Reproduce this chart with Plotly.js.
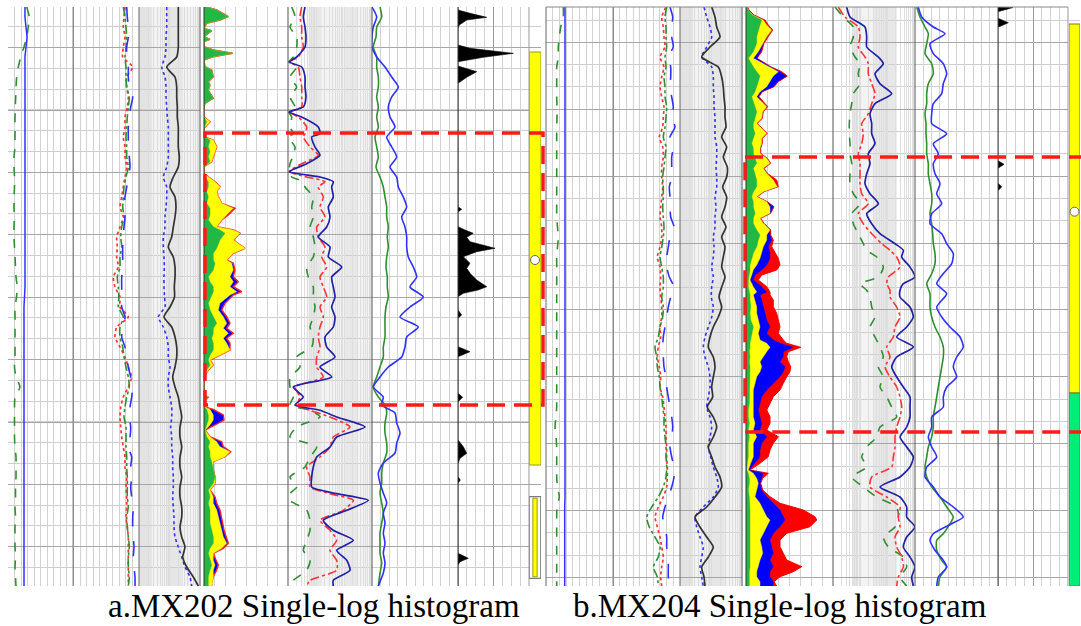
<!DOCTYPE html>
<html><head><meta charset="utf-8">
<script src="https://cdn.plot.ly/plotly-3.0.1.min.js"></script>
<style>html,body{margin:0;padding:0;background:#fff}#chart{width:1081px;height:626px}</style>
</head><body><div id="chart"></div>
<script>
// ---------------- DATA (depth in relative units, values in track units) ----------------
const depthGrid = [0,10,20,30,40,50,60,70,80,90,100,110,120,130,140,150,160,170,180,190,200,210,220,230,240,250,260,270,280,290,300,310,320,330,340,350,360,370,380,390,400,410,420,430,440,450,460,470,480,490,500,510,520,530,540,550,560,570,579];

// ===== a. MX202 =====
const a1Green = [18.7,21.3,20.3,18.7,16,12.7,10.3,8.7,8,7.7, 7.3,7,7,7,7,6,6,6.5,6.5,6, 6,6.3,6,6,6.5,7,7.5,8,9.3,8.5, 7,7,7,7,7,7,6.5,8,12,7, 6.5,6.5,6.5,6.5,7,8,8,8,7.5,7.5, 7,7.5,7,7,7,7.5,7,7.5,8];
const a1Blue = [17,17,18,19,18,17,17,17,17,17, 17,17,17,17,17,17,17,17,17,17, 17,17,17,17,17,17,17,17,17,16.5, 16,16,16,16,16,16,16,16,16,16, 16,16,16,16,16,16,16,16,16,16, 16,16,16,16,16,16,16,16,16];
const a1cRed = [117,116,115.3,117,115.3,114.7,124.7,118.7,118.7,120.3, 119.3,117,117,115.3,117,117,118.7,117,115.3,113.7, 112,115.3,112,108.7,109.3,108.7,110.3,105.3,107,112, 112,120.3,108.7,107,112,117,120.3,123.7,120.3,115.3, 112.7,112,112.7,113.7,115.3,117,117,118.7,118,118.7, 118.7,118,119.3,120.3,120.3,120.3,120.3,120.3,120.3];
const a1cGreen = [115.3,117,118,118.7,118,117,118,118,118.7,121.3, 120.3,119.3,118.7,118,118.7,118.7,120.3,118,116,115.3, 114.7,116,113.7,112.7,113.7,112,112,109.3,110.3,110.8, 110.3,115.3,112,112,114.7,116,118,120.3,121.3,118.7, 117,116,118,118,118,118.7,118.7,119.3,119.3,119.3, 120.3,118.7,119.3,120.3,121.3,120.3,120.3,121.3,120.3];
const a1cBlue = [118.7,119.3,120.3,120.3,118.7,118.7,120.3,120.3,121.3,124.7, 122.7,121.3,120.3,120.3,120.3,121.3,122,120.3,118.7,117, 116,117,116,115.3,114.7,114.7,115.3,113.7,113.7,113.7, 113.7,117,115.3,113.7,117,118.7,120.3,122.7,124.7,123.7, 122,121.3,122.7,122,120.3,123.7,122.7,123.7,122.7,123.7, 125.3,124.7,124.7,125.3,126,125.3,126,127,127];
const a2Blue = [27.7,27.7,27.7,27,27,26,22.7,26,27,27, 27.7,28.3,29.3,29.3,29.3,29.3,27.7,24.3,27.7,27.7, 27,26,26,24.3,24.3,25,25.3,25,25,25.5, 26,19.3,24.3,27.7,29.3,29.3,31,29.3,29.3,31, 32.7,32.7,31.7,32.7,32.7,33.7,33.7,34.3,34.3,33.7, 34.3,35,35,36,39.3,42.7,46,51,52.7];
const a2Black = [39.3,39.3,39.3,39.3,39.3,37.7,27.7,36,37.7,37.7, 38.3,38.3,39.3,39.3,39.3,40.3,39.3,34.3,31,36, 37,36,34.3,32.7,29.3,34.3,36,36,35.3,35.5, 31,25,32.7,36,37.7,37.7,36,33.7,36,39.3, 41,42.7,41,41,42.7,41,41,42.7,41,41, 42.7,42.7,41,42.7,46,43.7,47.7,54.3,59.3];

const litDepthA = [0,3,9.7,13,16.3,21.3,23.7,26.3,29.7,32.3, 34.7,39.7,43,46.3,49.7,53,59.7,63,69.7,74.7, 78,83,86.3,91.3,96.3,99.7,109.7,114.7,121.3,129.7, 133,139.7,144.7,149.7,154.7,159.7,166.3,169.7,174.7,179.7, 184.7,189.7,196.3,201.3,208,213,219.7,223,226.3,233, 241.3,246.3,253,256.3,263,269.7,274.7,279.7,284.7,288, 296.3,303,309.7,316.3,321.3,326.3,331.3,336.3,343,348, 353,358,363,369.7,388,390.3,394.7,399.7,402.3,408, 413,418,423,429.7,434.7,439.7,444.7,449.7,454.7,463, 469.7,476.3,483,489.7,496.3,503,509.7,516.3,523,529.7, 536.3,541.3,546.3,553,558,563,569.7,576.3,579];
const litGreenA = [2.7,12.7,24.3,16,2.7,0,7.7,4,0,6, 0,0,9.3,28.7,9.3,0,1,7.7,9.3,4.3, 6,4.3,6,9.3,1,0,0,2.7,0,0, 6,4.3,6,4.3,6,0,0,1,4.3,4.3, 2.7,4.3,2.7,6,6,4.3,9.3,16,21,16, 12.7,9.3,9.3,11,9.3,4.3,6,9.3,9.3,7.7, 4.3,6,9.3,12.7,9.3,9.3,7.7,9.3,9.3,6, 4.3,6,2.7,0,0,4.3,0,0,2.7,4.3, 4.3,2.7,1,2.7,6,4.3,6,6,7.7,9.3, 11,9.3,4.3,6,4.3,6,6,6,7.7,9.3, 9.3,6,4.3,6,7.7,6,4.3,4.3,4.3];
const litYellowA = [2.7,12.7,24.3,16,2.7,0,7.7,4,0,6, 0,0,9.3,28.7,9.3,0,1,7.7,9.3,4.3, 6,4.3,6,9.3,1,0,0,6,0,0, 9.3,12.7,11,9.3,7.7,0,0,4.3,11,16, 12.7,14.3,17.7,29.3,22.7,17.7,12.7,29.3,36,29.3, 41,29.3,22.7,27.7,29.3,26,29.3,26,32.7,26, 16,14.3,19.3,22.7,19.3,24.3,19.3,22.7,26,16, 6,9.3,4.3,0,0,4.3,0,0,6,9.3, 9.3,6,1,6,12.7,16,26,21,9.3,9.3, 11,11,6,9.3,9.3,12.7,14.3,16,17.7,19.3, 22.7,17.7,9.3,9.3,11,9.3,9.3,7.7,7.7];
const litBlueA = [2.7,12.7,24.3,16,2.7,0,7.7,4,0,6, 0,0,9.3,28.7,9.3,0,1,7.7,9.3,4.3, 6,4.3,6,9.3,1,0,0,6,0,0, 9.3,12.7,11,9.3,7.7,0,0,4.3,11,16, 12.7,14.3,17.7,31,24.3,17.7,12.7,29.3,36,29.3, 41,29.3,22.7,29.3,31,29.3,34.3,29.3,37.7,29.3, 21,17.7,22.7,26,22.7,29.3,22.7,26,26,16, 6,9.3,4.3,0,0,4.3,0,0,9.3,19.3, 20,11,1,6,17.7,19.3,26.7,21,9.3,9.3, 11,11,6,11,12.7,16,17.7,18.7,20,22, 24.3,19.3,9.3,12,14.3,12.7,9.3,7.7,7.7];

const a4Depth = [0,10,20,30,40,50, 55,60,70,80,90,100, 105,110,120,126.7,130,140, 148.3,156.7,164.7,170,174.7,180, 190,200,210,220,230,240, 250,260,270,280,290,300, 310,320,330,340,350,360, 370,380,390,398,403.3,410, 420,430,440,450,460,470, 480,486.7,493.3,503.3,513.3,523.3, 533.3,543.3,553.3,563.3,573.3,579];
const a4Green = [3.7,7,2,8.7,8.7,5.3, 1,8.7,2,8.7,2,7, 0.7,3.7,2,5.3,0.3,7, 5.3,2,1,3.7,15.3,17, 25.3,23.7,25.3,22,25.3,27, 25.3,18.7,20.3,25.3,25.3,27, 25.3,22,25.3,23.7,8.7,12, 2,2,5.3,2,22,32, 8.7,2,28.7,22,17,2, 8.7,2,2,18.7,22,22, 18.7,15.3,22,18.7,5.3,2];
const a4Red = [13.7,12,13.7,13.7,15.3,10.3, 1.3,10.3,12,13.7,13.7,13.7, 1.3,10.3,18.7,17,15.3,22, 30.3,13.7,1.3,18.7,37,30.3, 35.3,32,37,28.7,30.3,37, 33.7,38.7,32,35.3,38.7,32, 35.3,32,30.3,32,28.7,28.7, 35.3,7,12,8.7,22,42, 62,45.3,42,32,18.7,22, 22,42,65.3,55.3,32,42, 48.7,42,48.7,48.7,22,18.7];
const a4Blue = [17,15.3,17,18,17,8.7, 1.3,13.7,17,17,18,15.3, 1.3,13.7,30.3,32,23.7,27, 32,18.7,1.3,32,45.3,43.7, 45.3,40.3,42,38.7,30.3,42, 40.3,53.7,43.7,45.3,47,43.7, 47,45.3,37,38.7,47,32, 43.7,5.3,15.3,7,32,48.7, 77,48.7,42,28.7,25.3,23.7, 23.7,48.7,80.3,58.7,35.3,45.3, 65.3,48.7,58.7,62,45.3,45.3];

const a5Depth = [0,10,20,30,40,50,60,70,80,90, 100,110,120,130,140,150,160,170,180,190, 200,210,220,230,240,250,260,270,280,290, 300,310,320,330,340,350,360,370,380,390, 398, 406,416,426,436,446,456,466,476,486,496,506,516,526,536,546,556,566, 579];
const a5Green = [8,9.7,4.7,4,1.3,4.7,4.7,6.3,6.3,4.7, 6.3,4.7,6.3,3,4.7,6.3,4,8,11.3,13, 14.7,14.7,16.3,15.3,16.3,14.7,14,15.3,15.3,16.3, 14,13,13,13,11.3,11.3,8,4.7,1.3,6.3, 13, 14.7,13,13,14.7,14.7,11.3,9.7,9.7,8,9.7,11.3,9.7,8,8,8,9.7,8, 6.3];
const a5Blue = [0,4.7,1.3,0,0,4.7,13,19.7,26.3,19.7, 16.3,18,23,14.7,19.7,24.7,18,24.7,26.3,31.3, 34.7,29.7,33,34.7,34.7,36.3,41.3,44.7,38,51.3, 38,28,46.3,34.7,33,29.7,16.3,8,1.3,11.3, 9.7, 23,24.7,28,24.7,23,11.3,6.3,8,11.3,14.7,11.3,13,11.3,13,11.3,13,11.3, 6.3];

const spikeDepthA = [0,3,6.3,10.3,13,18,21.3,38,41.3,46.3, 50.3,54.7,59,61.3,64.7,70.3,76.3,199.7,202.3,205, 219.7,223,226.3,230.3,234.7,241.3,244.7,249.7,256.3,261.3, 266.3,273,279.7,283,286.3,289.7,303,308,311.3,339.7, 344.7,349.7,386.3,390.3,394.7,433,439.7,446.3,451.3,456.3, 469.7,473,476.3,546.3,551.3,554.7,558,579];
const spikeValA = [0,0,12,28.7,8.7,1.3,0,0,12,55.3, 25.3,0,0,8.7,18.7,8.7,0,0,3.7,0, 0,7,15.3,8.7,12,37,18.7,5.3,12,8.7, 12,18.7,28.7,20,5.3,0,0,3.7,0,0, 12,0,0,4.7,0,0,5.3,8.7,2,0, 0,2.3,0,0,10.3,2,0,0];

const zoneTopA = [45], zoneBaseA = [458];
const boxTopA = [489.7], boxBaseA = [571.3];
const markerDepthA = [253];
const intervalA = [126, 398];

// ===== b. MX204 =====
const b1Green = [17.3,17.3,14.7,13.3,12.3,12.3,10.7,10.7,10.7,10.7, 11,11,10.7,10.7,10.7,10.7,10.7,10.7,10.7,10.7, 10.7,10.7,11.5,12.3,11.5,10.7,10.7,10.7,10.7,10.7, 10.7,10.7,10.7,10.7,10.7,10.7,10.7,10.7,10.7,10.7, 10.7,10,9,10,10.7,10.7,10.7,10.7,11.5,13.3, 11,10.7,10.7,10.7,10.7,10.7,10.7,10.7,10.7];
const b1Blue = [19,19,19,19,19,19,19,19,19,19, 19,19,19,19,19,19,19,19,19,19, 19,19,19,19,19,19,19,19,19,19, 19,19,19,19,19,19,19,19,19,19, 19,19,19,19,19,19,19,19,19,19, 18.7,18.7,18.7,18.7,18.7,18.7,18.7,18.7,18.7];
const b1cRed = [120,115.7,117.3,118,119,114,118,115.7,114,115.7, 118,117.3,116.7,113.3,116.7,117.3,115.7,115.7,116.7,115.7, 114.7,114,115.7,115.7,114,111.3,114,114.7,114,114.7, 115.7,115.7,114,114.7,112.3,111.3,113.3,114.7,114,116.7, 118,119,120,120,120.7,120.7,121.3,121.3,120.7,117.3, 112.3,109,111.3,114,115.7,117.3,115.7,114.7,115.7];
const b1cGreen = [120.7,119,120,120,120.7,119,120,118,119,119, 120.7,120,119,117.3,120,119,118,116.7,117.3,117.3, 116.7,117.3,118,117.3,115.7,114,115.7,117.3,117.3,115.7, 117.3,116.7,114,112.3,109,110.7,111.3,113.3,114,115.7, 116.7,118,118,119,120,120,120.7,120,117.3,112.3, 105.7,100.7,103.3,109,114,112.3,107.3,111.3,112.3];
const b1cBlue = [124,126.7,125.7,125.7,127.3,122.3,124.7,124.7,124,125.7, 127.3,125.7,129,124,127.3,125.7,125.7,125.7,123.3,124, 124,124.7,128,124,122.3,120.7,120.7,123.3,128,124.7, 122.3,120.7,119,117.3,116.7,117.3,118,120,120.7,122.3, 124,125.7,126.7,125.7,124,125.7,128,128,125.7,122.3, 119,116.7,119,120.7,120.7,122.3,122.3,122.3,123.3];
const b2Blue = [24,26.7,30,31.7,26.7,21.7,31.7,33.3,33.3,34, 34,35,35,35,36.7,36.7,36,36.7,36.7,35, 36,35,35,33.3,34,33.3,31.7,33.3,31.7,31.3, 33.3,31.7,28.3,25,23.3,25,28.3,30,30,28.3, 26.7,30,31.7,30,28.3,30.7,33.3,36.7,38.3,33.3, 23.3,15,16.7,20,23.3,21.7,20,21.7,23.3];
const b2Black = [31.7,35,36.7,40,30,21.7,38.3,41.7,43.3,44, 45,45,46,41.7,46.7,43.3,47.3,46.7,42.7,46.7, 45,41.7,46,41.7,45,43.3,41.7,45,41.7,39, 41.7,38.3,33.3,30,28.3,33.3,35,33.3,31.7,32.7, 27.3,33.3,36.7,33.3,28.3,31.7,35,40,41.7,35, 26.7,15,20,26.7,33.3,28.3,21.7,24,25];

const litDepthB = [0,3,8,13,18,23,29.7,36.3,44.7,51.3, 54.7,59.7,64.7,69,74.7,79.7,84.7,89.7,94.7,99.7, 104.7,111.3,116.3,121.3,126.3,131.3,136.3,141.3,146.3,151.3, 156.3,161.3,166.3,173,179.7,184.7,189.7,194.7,199.7,206.3, 211.3,216.3,223,228,233,239.7,246.3,251.3,258,263, 268,273,279.7,285,288,293,299.7,306.3,313,319.7, 326.3,333,336.3,340.3,344.7,349.7,354.7,359.7,364.7,369.7, 376.3,383,389.7,396.3,403,409.7,416.3,423,429.7,436.3, 443,449.7,456.3,463,466.3,471.3,476.3,483,489.7,496.3, 503,509.7,513,519.7,526.3,533,539.7,546.3,553,559.7, 564.7,569.7,574.7,579];
const litGreenB = [1,2.3,6,15.7,14,12.3,10.7,10.7,7.3,2.3, 4,7.3,10.7,14,12.3,10.7,9,5.7,7.3,9, 10.7,9,7.3,7.3,9,7.3,5.7,7.3,7.3,9, 10.7,7.3,9,10.7,10.7,7.3,5.7,7.3,7.3,9, 7.3,7.3,10.7,14,12.3,10.7,7.3,5.7,4,4, 3.3,2.3,2.3,3.3,4,4,4.7,4,4.7,7.3, 5.7,4.7,4,4,3.3,4,3.3,4,4,4, 3.3,3.3,3.3,3.3,2.3,2.3,3.3,2.3,3.3,2.3, 2.3,2.3,1.3,0.7,2.3,3.3,3.3,2.3,3.3,4, 4,4,4,4,4,4,4,4.7,4,4, 3.3,3.3,3.3,3.3];
const litYellowB = [1,2.3,7,17.3,20.7,25.7,20.7,17.3,12.3,7.3, 14,22.3,32.3,27.3,24,20.7,14,10.7,15.7,20.7, 16.7,15.7,10.7,15.7,20.7,15.7,15.7,14,14,20.7, 24,17.3,20.7,27.3,31.3,17.3,10.7,20.7,24,24, 14,17.3,24,20.7,20.7,17.3,15.7,14,10.7,7.3, 5.7,4,7.3,10.7,7.3,9,10.7,10.7,12.3,14, 12.3,14,20.7,24,20.7,17.3,14,15.7,14,10.7, 9,7.3,7.3,7.3,6.7,7.3,9,7.3,10.7,7.3, 7.3,7.3,4.7,2.3,7.3,10.7,12.3,10.7,9,14, 17.3,20.7,24,20.7,17.3,14,15.7,16.7,14,12.3, 10.7,10.7,14,14];
const litBlueB = [1,2.3,7,17.3,20.7,25.7,20.7,17.3,14.7,10.7, 15.7,24,34,40,31.3,27.3,15.7,12.3,15.7,20.7, 16.7,15.7,10.7,15.7,20.7,15.7,15.7,14,14,20.7, 24,17.3,20.7,27.3,31.3,17.3,10.7,20.7,27.3,24, 14,17.3,24,24,25.7,22.3,24,24,20.7,15.7, 9,7.3,15.7,20.7,14,15.7,17.3,19,20.7,24, 20.7,27.3,34,47.3,37.3,37.3,34,39,37.3,34, 27.3,20.7,15.7,14,12.3,14,15.7,14,20.7,15.7, 14,14,9,3.3,17.3,15.7,14,15.7,20.7,27.3, 34,37.3,39,34,27.3,24,25.7,27.3,24,27.3, 24,24,27.3,27.3];
const litRedB = [1.5,3,8,19,22.3,26.7,22.3,18,15.7,11, 16.7,24.7,35.7,41.3,32.3,28,16.3,13,17.3,21.7, 17.3,16.3,11.3,16.3,21.3,16.3,16.3,14.7,14.7,21.3, 24.7,18,21.3,30.7,32.3,18,11.3,21.3,28,24.7, 14.7,18,24.7,24.7,27.3,25.7,29,32.3,34,30.7, 15.7,12.3,20.7,24,24,27.3,27.3,30.7,32.3,34, 32.3,37.3,40.7,54.7,42.3,40.7,42.3,44.7,44,40.7, 37.3,34,27.3,24,20.7,24,24,20.7,32.3,27.3, 24,22.3,14,4,22.3,16.7,14.7,16.7,24,34, 57.3,69,70.7,64,40.7,34,34,37.3,40.7,55.7, 47.3,34,28,30.7];

const b4Depth = [0,10,20,30,40,50, 56.7,66.7,76.7,86.7,96.7,106.7,116.7,126.7,136.7,146.7,156.7,166.7,176.7,186.7,196.7,206.7,216.7,226.7,236.7, 243.3,250,260,270,276.7,283.3, 290,300,310,320,330,340,350,360,370,380,390,400,410,420,430,440,450,460,470,480,490,500,510,520,530,540,550,560,570, 579];
const b4Green = [2,10.3,20.3,20.3,17,22, 27,25.3,27,20.3,18.7,17,16.3,16.3,17,17,18.7,17,17,20.3,27,18.7,20.3,25.3,30.3, 33.7,43.7,50.3,45.3,27,33.7, 37,38.7,42,37,42,47,50.3,45.3,50.3,47,53.7,58.7,63.7,47,43.7,33.7,28.7,33.7,18.7,30.3,43.7,63.7,65.3,62,50.3,55.3,70.3,73.7,67, 73.7];
const b4Red = [5.3,12,25.3,27,25.3,32, 35.3,35.3,38.7,42,38.7,35.3,28.7,30.3,28.7,25.3,27,27,27,28.7,35.3,25.3,30.3,38.7,48.7, 57,63.7,67,55.3,53.7,57, 57,63.7,67,62,60.3,53.7,57,52,57,63.7,67,68.7,67,63.7,62,62,60.3,58.7,38.7,37,53.7,67,65.3,67,62,63.7,68.7,70.3,65.3, 63.7];
const b4Blue = [13.7,17,32,33.7,33.7,45.3, 50.3,42,47,58.7,42,37,38.7,38.7,42,35.3,37,33.7,32,37,45.3,33.7,38.7,47,62, 70.3,68.7,77,82,70.3,67, 67,77,80.3,73.7,63.7,80.3,63.7,58.7,63.7,70.3,77,77,77,73.7,67,73.7,80.3,77,67,47,67,73.7,73.7,82,73.7,70.3,77,82,78.7, 80.3];

const b5Depth = [0,10,20,26.7,36.7,46.7,56.7,66.7,76.7,86.7, 96.7,106.7,116.7,126.7,136.7,146.7,156.7,166.7,176.7,186.7, 196.7,206.7,216.7,226.7,236.7,246.7,256.7,266.7,276.7,286.7, 300,310,320,330,340,350,360,370,380,390, 400,410,420,430,440,450,460,470,480,490, 500,510, 516.7,526.7,533.3,543.3,553.3,560,570,579];
const b5Green = [1.7,5,10,13.3,11.7,10,16.7,18.3,13.3,11.7, 11.7,10,11,11,11.7,11.7,13.3,13.3,15,16.7, 16.7,15,16.7,17.7,18.3,20,20,16.7,11.7,15, 15,16.7,20,25,28.3,28.3,26.7,25,23.3,21.7, 20,18.3,18.3,16.7,13.3,11.7,10,11.7,16.7,25, 31.7,38.3, 35,28.3,21.7,21.7,26.7,31.7,25,23.3];
const b5Blue = [3.3,6.7,18.3,30,15,18.3,28.3,31.7,28.3,26.7, 18.3,16.7,16.7,31.7,18.3,23.3,18.3,20,25,21.7, 26.7,16.7,15,26.7,31.7,38.3,36.7,28.3,21.7,31.7, 21.7,26.7,35,45,48.3,41.7,38.3,41.7,31.7,28.3, 28.3,16.7,16.7,13.3,16.7,21.7,11.7,10,18.3,25, 38.3,48.3, 36.7,18.3,15,20,28.3,31.7,23.3,21.7];

const spikeDepthB = [0,0.5,4.7,11.3,15.7,20.3,153.7,157.3,161.3,176.3,179.7,183.7,579];
const spikeValB = [0,15,0,0,10.3,0,0,6,0,0,3.7,0,0];

const zoneTopB = [17, 386], zoneBaseB = [386, 579];
const zoneColorB = ['#ffff00', '#00ee78'];
const markerDepthB = [204.7];
const intervalB = [150, 425];

const captions = ['a.MX202 Single-log histogram', 'b.MX204 Single-log histogram'];

// ---------------- LAYOUT / STYLE ----------------
const W = 1081, H = 626;
const yBot = 1 - 586 / H, yTop = 1 - 7 / H;
const px = v => v / W;

const tracks = [
  {ax:'x',  ya:'y',  p0:8,    p1:139,  grid:'dual'},
  {ax:'x2', ya:'y',  p0:139,  p1:200,  grid:'log2'},
  {ax:'x3', ya:'y',  p0:204,  p1:288,  grid:'lin8'},
  {ax:'x4', ya:'y',  p0:288,  p1:372,  grid:'log3'},
  {ax:'x5', ya:'y',  p0:372,  p1:458,  grid:'lin10'},
  {ax:'x6', ya:'y',  p0:458,  p1:529,  grid:'half8'},
  {ax:'x7', ya:'y',  p0:529,  p1:541,  grid:'bar'},
  {ax:'x8', ya:'y2', p0:546,  p1:680,  grid:'dual'},
  {ax:'x9', ya:'y2', p0:680,  p1:742,  grid:'log2'},
  {ax:'x10',ya:'y2', p0:746,  p1:833,  grid:'lin8'},
  {ax:'x11',ya:'y2', p0:833,  p1:915,  grid:'log3'},
  {ax:'x12',ya:'y2', p0:915,  p1:998,  grid:'lin10'},
  {ax:'x13',ya:'y2', p0:998,  p1:1068, grid:'half8'},
  {ax:'x14',ya:'y2', p0:1069, p1:1080, grid:'bar'}
];

function logTicks(w, dec) {
  const v = [];
  for (let d = 0; d < dec; d++) for (let k = 1; k < 10; k++) v.push((d + Math.log10(k)) / dec * w);
  v.push(w);
  return v;
}

const layout = {
  width: W, height: H, margin: {l:0, r:0, t:0, b:0},
  paper_bgcolor: '#ffffff', plot_bgcolor: 'rgba(0,0,0,0)',
  showlegend: false, barmode: 'overlay',
  shapes: [], annotations: []
};

const LIGHT = '#d3d3d3';
tracks.forEach(t => {
  const key = 'xaxis' + t.ax.slice(1);
  const w = t.p1 - t.p0;
  const a = {domain:[px(t.p0), px(t.p1)], anchor:t.ya, showticklabels:false, ticks:'',
             zeroline:false, showline:false, fixedrange:true};
  if (t.grid === 'bar') { a.range = [-0.5, 0.5]; a.showgrid = false; }
  else {
    a.range = [0, w]; a.showgrid = true; a.gridwidth = 1;
    if (t.grid === 'dual') { a.tick0 = 0; a.dtick = w/2; a.gridcolor = '#8f8f8f';
      a.minor = {tick0:0, dtick:w/20, showgrid:true, gridcolor:LIGHT, gridwidth:1}; }
    if (t.grid === 'half8') { a.tick0 = 0; a.dtick = w/2; a.gridcolor = '#9a9a9a';
      a.minor = {tick0:0, dtick:w/8, showgrid:true, gridcolor:LIGHT, gridwidth:1}; }
    if (t.grid === 'lin8') { a.tick0 = 0; a.dtick = w/8; a.gridcolor = LIGHT; }
    if (t.grid === 'lin10') { a.tick0 = 0; a.dtick = w/10; a.gridcolor = LIGHT; }
    if (t.grid === 'log2') { a.tickmode = 'array'; a.tickvals = logTicks(w, 2); a.gridcolor = '#dcdcdc'; }
    if (t.grid === 'log3') { a.tickmode = 'array'; a.tickvals = logTicks(w, 3); a.gridcolor = '#dedede'; }
  }
  layout[key] = a;
});

const yCommon = {domain:[yBot, yTop], range:[579, 0], autorange:false, showticklabels:false, ticks:'',
                 zeroline:false, showline:false, fixedrange:true, showgrid:true, gridwidth:1};
layout.yaxis = Object.assign({}, yCommon, {anchor:'x', tick0:40.7, dtick:62.4, gridcolor:'#a6a6a6',
  minor:{tick0:19.7, dtick:20.8, showgrid:true, gridcolor:'#cfcfcf', gridwidth:1}});
layout.yaxis2 = Object.assign({}, yCommon, {anchor:'x8', tick0:35.3, dtick:66.9, gridcolor:'#a6a6a6',
  minor:{tick0:13, dtick:22.3, showgrid:true, gridcolor:'#cfcfcf', gridwidth:1}});

// shading bands in the log tracks
function shade(ax, f0, f1, col) {
  layout.shapes.push({type:'rect', xref:ax + ' domain', yref:'paper', x0:f0, x1:f1, y0:yBot, y1:yTop,
    fillcolor:col, line:{width:0}, layer:'below'});
}
['x2','x9'].forEach(ax => { shade(ax, 0, 1, '#f3f3f3'); shade(ax, 0, 0.21, '#e3e3e3'); shade(ax, 0.46, 0.72, '#e6e6e6'); });
shade('x4', 0.22, 1, '#f3f3f3'); shade('x4', 0.25, 0.4, '#e8e8e8'); shade('x4', 0.68, 0.82, '#e8e8e8');
shade('x11', 0.245, 0.776, '#f3f3f3'); shade('x11', 0.245, 0.3, '#e6e6e6'); shade('x11', 0.49, 0.776, '#e8e8e8');

// track boundaries
const bounds = [[73,'#8a8a8a'],[139,'#666'],[200,'#555'],[204,'#333'],[288,'#555'],[372,'#555'],[458,'#333'],
  [529,'#999'],[546,'#666'],[613,'#8a8a8a'],[680,'#666'],[742,'#555'],[746,'#333'],[833,'#555'],[915,'#555'],[998,'#444'],[1068,'#999']];
bounds.forEach(([p, c]) => layout.shapes.push({type:'line', xref:'paper', yref:'paper', x0:px(p), x1:px(p),
  y0:yBot, y1:yTop, line:{color:c, width:1}, layer:'above'}));
layout.shapes.push({type:'line', xref:'paper', yref:'paper', x0:px(546), x1:px(1068), y0:yTop, y1:yTop,
  line:{color:'#888', width:1}, layer:'above'});

// red dashed target intervals
layout.shapes.push({type:'rect', xref:'paper', yref:'y', x0:px(205), x1:px(543), y0:intervalA[0], y1:intervalA[1],
  line:{color:'#ff1a1a', width:3.5, dash:'18px,9px'}, fillcolor:'rgba(0,0,0,0)', layer:'above'});
layout.shapes.push({type:'rect', xref:'paper', yref:'y2', x0:px(745), x1:1.02, y0:intervalB[0], y1:intervalB[1],
  line:{color:'#ff1a1a', width:3.5, dash:'18px,9px'}, fillcolor:'rgba(0,0,0,0)', layer:'above'});

// captions
const capFont = {family:'"Times New Roman", "Liberation Serif", serif', size:33, color:'#000'};
layout.annotations.push({text:captions[0], xref:'paper', yref:'paper', x:px(314), y:1 - 606/H,
  xanchor:'center', yanchor:'middle', showarrow:false, font:capFont});
layout.annotations.push({text:captions[1], xref:'paper', yref:'paper', x:px(780), y:1 - 606/H,
  xanchor:'center', yanchor:'middle', showarrow:false, font:capFont});

// ---------------- TRACES ----------------
const traces = [];
function curve(x, y, xa, ya, color, dash, w) {
  traces.push({type:'scatter', mode:'lines', x:x, y:y, xaxis:xa, yaxis:ya,
    line:{color:color, dash:dash || 'solid', width:w || 1.5, shape:'spline', smoothing:0.6}, hoverinfo:'skip'});
}
function fillLayer(x, y, xa, ya, fillcol, linecol, lw) {
  traces.push({type:'scatter', mode:'lines', x:x, y:y, xaxis:xa, yaxis:ya, fill:'tozerox', fillcolor:fillcol,
    line:{color:linecol, width:lw}, hoverinfo:'skip'});
}
const GREEN = '#2f8f2f', BLUE = '#3030ff', NAVY = '#2020a8', RED = '#ff3333', LITG = '#22b845';

// panel a
curve(a1Green, depthGrid, 'x', 'y', GREEN, 'dash', 1.6);
curve(a1Blue, depthGrid, 'x', 'y', BLUE, 'solid', 1.5);
curve(a1cRed, depthGrid, 'x', 'y', RED, 'dot', 1.7);
curve(a1cGreen, depthGrid, 'x', 'y', GREEN, 'dashdot', 1.6);
curve(a1cBlue, depthGrid, 'x', 'y', BLUE, 'longdash', 1.6);
curve(a2Blue, depthGrid, 'x2', 'y', BLUE, 'dot', 1.6);
curve(a2Black, depthGrid, 'x2', 'y', '#333333', 'solid', 1.7);
fillLayer(litBlueA, litDepthA, 'x3', 'y', '#0000ff', '#ff2020', 1.4);
fillLayer(litYellowA, litDepthA, 'x3', 'y', '#ffff00', '#ffff00', 0.4);
fillLayer(litGreenA, litDepthA, 'x3', 'y', LITG, LITG, 0.4);
curve(a4Green, a4Depth, 'x4', 'y', GREEN, 'dash', 1.6);
curve(a4Red, a4Depth, 'x4', 'y', RED, 'dashdot', 1.6);
curve(a4Blue, a4Depth, 'x4', 'y', NAVY, 'solid', 1.7);
curve(a5Green, a5Depth, 'x5', 'y', GREEN, 'solid', 1.6);
curve(a5Blue, a5Depth, 'x5', 'y', BLUE, 'solid', 1.6);
fillLayer(spikeValA, spikeDepthA, 'x6', 'y', '#000000', '#000000', 0.6);

// zone column a
traces.push({type:'bar', x:[0], base:zoneTopA, y:zoneBaseA.map((b, i) => b - zoneTopA[i]), width:[1],
  xaxis:'x7', yaxis:'y', marker:{color:'#ffff00', line:{color:'#9a9a20', width:1}}, hoverinfo:'skip'});
traces.push({type:'bar', x:[0], base:boxTopA, y:boxBaseA.map((b, i) => b - boxTopA[i]), width:[0.96],
  xaxis:'x7', yaxis:'y', marker:{color:'#ffffff', line:{color:'#7a7a7a', width:1.2}}, hoverinfo:'skip'});
traces.push({type:'bar', x:[0], base:[boxTopA[0] + 1.5], y:[boxBaseA[0] - boxTopA[0] - 3], width:[0.36],
  xaxis:'x7', yaxis:'y', marker:{color:'#ffff00', line:{color:'#9a9a20', width:1}}, hoverinfo:'skip'});
traces.push({type:'scatter', mode:'markers', x:[0], y:markerDepthA, xaxis:'x7', yaxis:'y',
  marker:{size:9, color:'#ffffff', line:{color:'#666', width:1}}, hoverinfo:'skip'});

// panel b
curve(b1Green, depthGrid, 'x8', 'y2', GREEN, 'dash', 1.6);
curve(b1Blue, depthGrid, 'x8', 'y2', BLUE, 'solid', 1.5);
curve(b1cRed, depthGrid, 'x8', 'y2', RED, 'dot', 1.7);
curve(b1cGreen, depthGrid, 'x8', 'y2', GREEN, 'dashdot', 1.6);
curve(b1cBlue, depthGrid, 'x8', 'y2', BLUE, 'longdash', 1.6);
curve(b2Blue, depthGrid, 'x9', 'y2', BLUE, 'dot', 1.6);
curve(b2Black, depthGrid, 'x9', 'y2', '#333333', 'solid', 1.7);
fillLayer(litRedB, litDepthB, 'x10', 'y2', '#ff0000', '#ff0000', 1);
fillLayer(litBlueB, litDepthB, 'x10', 'y2', '#0000ff', '#0000ff', 0.4);
fillLayer(litYellowB, litDepthB, 'x10', 'y2', '#ffff00', '#ffff00', 0.4);
fillLayer(litGreenB, litDepthB, 'x10', 'y2', LITG, LITG, 0.4);
curve(b4Green, b4Depth, 'x11', 'y2', GREEN, 'dash', 1.6);
curve(b4Red, b4Depth, 'x11', 'y2', RED, 'dashdot', 1.6);
curve(b4Blue, b4Depth, 'x11', 'y2', NAVY, 'solid', 1.7);
curve(b5Green, b5Depth, 'x12', 'y2', GREEN, 'solid', 1.6);
curve(b5Blue, b5Depth, 'x12', 'y2', BLUE, 'solid', 1.6);
fillLayer(spikeValB, spikeDepthB, 'x13', 'y2', '#000000', '#000000', 0.6);

traces.push({type:'bar', x:[0, 0], base:zoneTopB, y:zoneBaseB.map((b, i) => b - zoneTopB[i]), width:[1, 1],
  xaxis:'x14', yaxis:'y2', marker:{color:zoneColorB, line:{color:'#7a7a20', width:1}}, hoverinfo:'skip'});
traces.push({type:'scatter', mode:'markers', x:[0], y:markerDepthB, xaxis:'x14', yaxis:'y2',
  marker:{size:9, color:'#ffffff', line:{color:'#666', width:1}}, hoverinfo:'skip'});

Plotly.newPlot('chart', traces, layout, {staticPlot:true, displayModeBar:false});
</script>
</body></html>
